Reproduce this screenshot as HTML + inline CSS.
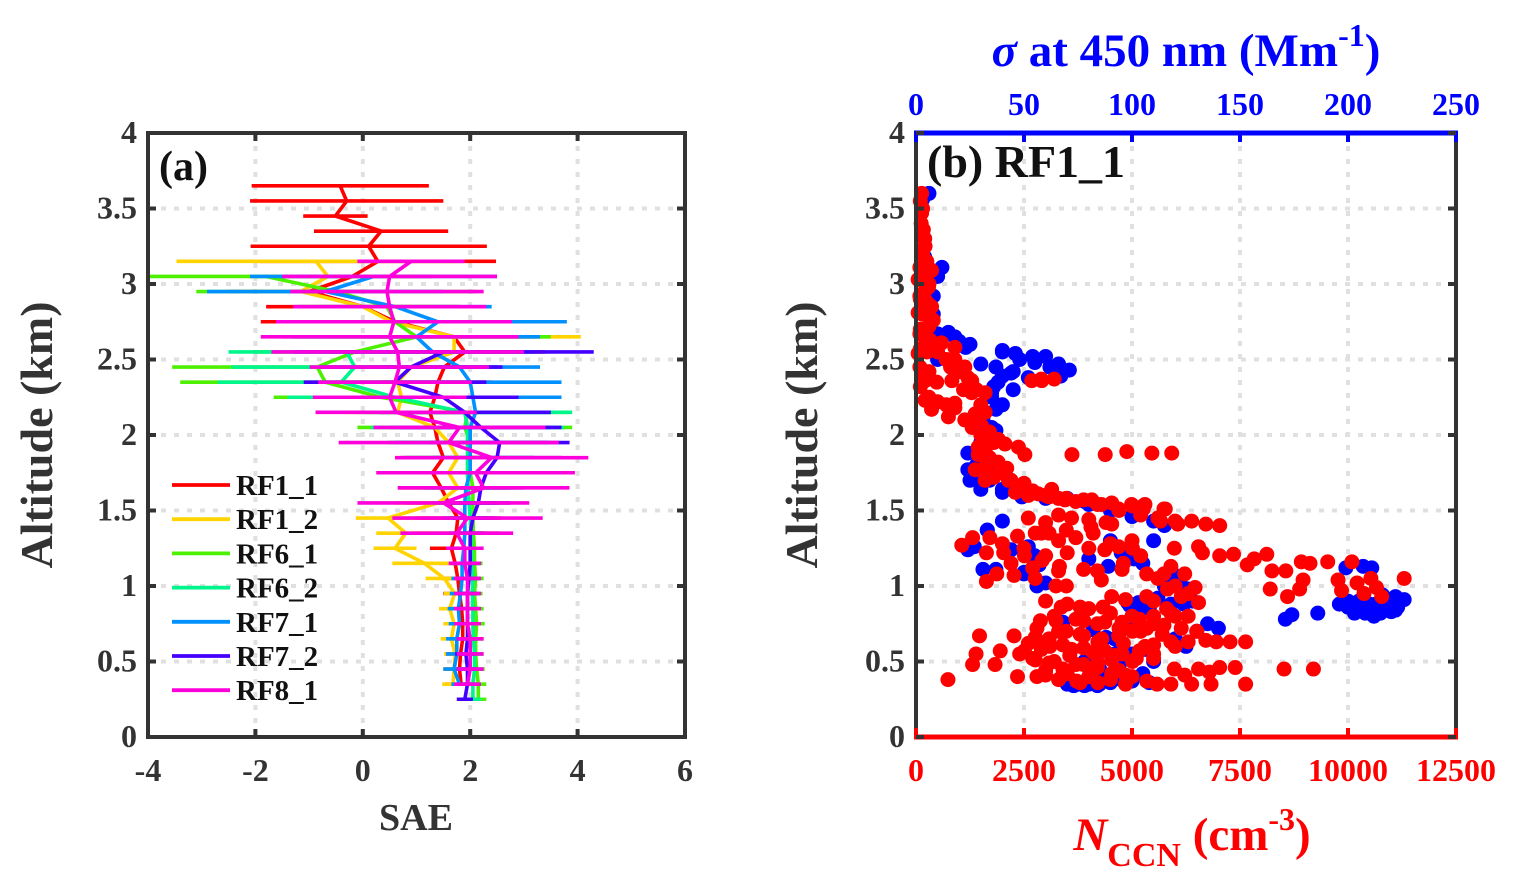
<!DOCTYPE html>
<html><head><meta charset="utf-8">
<style>
html,body{margin:0;padding:0;background:#fff;}
svg{display:block;font-family:"Liberation Serif",serif;font-weight:bold;}
</style></head>
<body>
<svg id="fig" width="1520" height="895" viewBox="0 0 1520 895" xmlns="http://www.w3.org/2000/svg">
<g id="pa"></g>
<g id="pb"></g>
</svg>
<script>
// ---------- Panel (a) data ----------
const altLevels = [0.25,0.35,0.45,0.55,0.65,0.75,0.85,0.95,1.05,1.15,1.25,1.35,1.45,1.55,1.65,1.75,1.85,1.95,2.05,2.15,2.25,2.35,2.45,2.55,2.65,2.75,2.85,2.95,3.05,3.15,3.25,3.35,3.45,3.55,3.65];
const seriesNames = ["RF1_1","RF1_2","RF6_1","RF6_2","RF7_1","RF7_2","RF8_1"];
const seriesColors = ["#ff0000","#ffd400","#4cf000","#00f58a","#0090ff","#4400ff","#ff00dc"];
const n = null;
const rf11Mean = [n,1.83,1.80,1.82,1.86,1.86,1.84,1.80,1.77,1.72,1.65,1.74,1.77,1.60,1.46,1.30,1.50,1.40,1.34,1.25,1.34,1.40,1.52,1.90,1.70,0.60,0.00,-1.00,-0.20,0.28,0.11,0.34,-0.51,-0.30,-0.42];
const rf11Err  = [n,0.3,0.3,0.3,0.25,0.25,0.25,0.3,0.3,0.3,0.4,0.8,0.8,0.8,0.8,0.8,0.8,0.8,0.8,0.9,0.9,1.0,1.0,1.5,1.6,2.5,1.8,1.5,1.5,2.2,2.2,1.25,0.6,1.8,1.65];
const rf12Mean = [n,1.68,1.70,1.72,1.65,1.70,1.62,1.71,1.52,1.15,0.60,0.80,0.47,1.40,1.77,1.60,1.77,1.60,1.34,0.65,0.72,0.65,0.90,1.70,1.70,0.53,0.00,-1.15,-0.65,-0.87,n,n,n,n,n];
const rf12Err  = [n,0.2,0.2,0.2,0.2,0.2,0.2,0.2,0.35,0.6,0.4,0.55,0.6,0.8,0.8,0.8,0.8,0.8,0.9,1.0,1.0,1.0,1.0,1.2,2.36,1.5,1.2,1.2,1.5,2.6,n,n,n,n,n];
const rf61Mean = [2.15,2.15,2.12,2.10,2.10,2.12,2.10,2.08,2.10,2.08,2.08,2.06,2.05,2.05,2.05,2.00,2.00,2.00,1.90,1.95,0.34,-0.70,-0.85,-0.15,1.00,0.60,0.45,-0.50,-1.80,n,n,n,n,n,n];
const rf61Err  = [0.15,0.15,0.15,0.15,0.15,0.15,0.15,0.15,0.15,0.15,0.15,0.2,0.3,0.5,0.8,1.0,1.2,1.5,2.0,1.9,2.0,2.7,2.7,1.9,2.5,1.0,1.3,2.6,2.2,n,n,n,n,n,n];
const rf62Mean = [2.05,2.05,2.08,2.08,2.06,2.05,2.05,2.04,2.05,2.03,2.02,2.02,2.00,1.98,1.96,1.95,1.95,1.95,1.95,1.90,0.60,-0.40,-0.15,-0.30,n,n,n,n,n,n,n,n,n,n,n];
const rf62Err  = [0.15,0.15,0.15,0.15,0.15,0.15,0.15,0.15,0.15,0.15,0.15,0.2,0.3,0.5,0.8,1.0,1.2,1.5,1.8,2.0,2.0,2.3,2.3,2.2,n,n,n,n,n,n,n,n,n,n,n];
const rf71Mean = [n,1.80,1.70,1.75,1.75,1.80,1.78,1.82,1.85,1.85,1.88,1.90,1.90,1.90,1.92,2.00,2.00,2.00,2.00,2.10,2.05,2.00,1.80,1.30,1.00,1.40,0.60,-0.70,0.20,n,n,n,n,n,n];
const rf71Err  = [n,0.15,0.2,0.2,0.2,0.2,0.2,0.2,0.2,0.2,0.2,0.3,0.4,0.6,0.8,1.0,1.2,1.4,1.5,1.4,1.65,1.7,1.5,1.9,2.3,2.4,1.8,2.2,2.3,n,n,n,n,n,n];
const rf72Mean = [1.90,1.95,1.95,1.92,1.95,1.95,1.95,1.95,1.98,2.00,2.00,2.00,2.05,2.15,2.20,2.30,2.50,2.55,2.20,1.90,1.50,0.60,0.90,1.50,n,n,n,n,n,n,n,n,n,n,n];
const rf72Err  = [0.15,0.15,0.2,0.2,0.2,0.2,0.2,0.2,0.2,0.2,0.2,0.3,0.4,0.6,0.8,1.0,1.2,1.3,1.5,1.6,1.4,1.7,1.7,2.8,n,n,n,n,n,n,n,n,n,n,n];
const rf81Mean = [n,1.95,2.00,2.00,2.00,1.95,1.95,1.95,1.95,1.90,1.90,1.75,1.95,1.50,2.25,2.10,2.40,1.60,1.80,0.62,0.50,0.60,0.68,0.65,0.50,0.58,0.50,0.45,0.50,0.90,n,n,n,n,n];
const rf81Err  = [n,0.25,0.25,0.25,0.25,0.25,0.25,0.25,0.25,0.3,0.35,1.05,1.4,1.6,1.6,1.85,1.8,2.05,1.6,1.5,1.43,1.43,1.67,2.35,2.4,2.2,1.8,1.8,2.0,1.0,n,n,n,n,n];
const allMeans = [rf11Mean,rf12Mean,rf61Mean,rf62Mean,rf71Mean,rf72Mean,rf81Mean];
const allErrs  = [rf11Err,rf12Err,rf61Err,rf62Err,rf71Err,rf72Err,rf81Err];
const saeTicks = [-4,-2,0,2,4,6];
const altTicks = [0,0.5,1,1.5,2,2.5,3,3.5,4];
const altTickLabels = ["0","0.5","1","1.5","2","2.5","3","3.5","4"];

// ---------- Panel (b) data ----------
// red: N_CCN (cm^-3)
const ccnN = [130,130,170,210,90,360,50,290,90,360,50,400,90,320,590,900,50,900,90,1130,210,1290,480,830,1290,1600,210,360,900,750,1130,1370,1520,1680,1910,1440,2060,2370,2520,1440,1600,1910,2140,2450,2830,3140,3450,4070,4530,4990,5300,5770,2680,2910,3610,4380,4880,5460,5920,1600,1370,
 6380,6710,7030,6060,5660,5260,5740,5260,5010,4690,4290,3880,3480,3080,
 1060,1310,1710,2350,2760,3080,3480,4050,4530,
 1630,2030,2510,2920,3320,3880,4370,4690,5010,5980,6540,6630,7030,7350,7670,7830,8120,8240,8560,8920,9120,9530,10090,8960,11300,9770,10210,10530,10660,10780,10370,9850,8600,8200,8880,
 1630,1870,2270,2760,3240,3480,4290,4770,5340,5740,5900,6220,6460,
 3360,3800,4330,4530,4850,5340,5820,6140,6540,6300,5900,5500,5170,4770,4370,3880,3240,2880,1470,2270,2760,3080,3480,3880,4210,4690,5010,5340,5740,6140,6710,7630,7270,6950,6300,5900,5500,5170,4770,4370,3880,3400,2920,2510,1390,1950,1310,1830,2350,2800,3000,3400,3880,4210,4530,5010,5500,5980,6220,6540,6790,7030,7390,8520,9200,740,3720,4210,4850,5340,5580,5900,6380,6830,7630,3400,3080,2760,3560,4530,4850,4050,
 2900,3200,
 100,150,120,200,150,250,120,300,200,100,250,150,300,100,200,350,100,250,500,700,150,300,800,1000,1200,100,300,500,700,900,1100,1400,1500,1600,1300,1500,1700,1800,1600,1700,1900,2100,1800,2200,2500,2700,3000,3300,3700,4200,4700,5200,5600,6000,2300,2600,
 2600,3000,3300,3600,4000,4400,2900,3300,3700,4100,2000,2500,3000,3500,4000,4500,5000,2200,2700,3300,4200,4800,5200,5600,6000,6300,5500,5800,
 3000,3500,4000,4500,5000,3200,3700,4200,4700,5200,5700,2800,3300,3800,4300,4800,5300,2600,3100,3600,4100,4600,5100,2700,3200,3700,4200,4700,3000,3500,4000,4500,5000,3300,3800,5500,6000,6500,6000,5500,2400,2900];
// red: altitude (km)
const ccnAlt = [3.60,3.47,3.36,3.25,3.11,3.09,3.03,2.98,2.92,2.85,2.81,2.76,2.67,2.63,2.61,2.58,2.54,2.50,2.45,2.45,2.36,2.36,2.35,2.36,2.28,2.28,2.23,2.17,2.21,2.12,2.10,2.14,2.06,1.99,1.97,1.92,1.94,1.92,1.87,1.87,1.79,1.75,1.70,1.66,1.61,1.64,1.57,1.57,1.55,1.54,1.54,1.51,2.36,2.36,1.87,1.87,1.89,1.88,1.88,1.70,1.77,
 1.43,1.41,1.40,1.41,1.43,1.53,1.51,1.51,1.53,1.51,1.54,1.57,1.58,1.59,
 1.27,1.32,1.32,1.33,1.35,1.35,1.37,1.39,1.41,
 1.22,1.22,1.20,1.17,1.13,1.11,1.24,1.26,1.25,1.25,1.26,1.22,1.20,1.21,1.14,1.18,1.21,1.10,1.10,1.16,1.15,1.16,1.16,1.04,1.05,1.04,1.02,1.05,0.99,0.93,0.95,0.97,0.93,0.98,0.98,
 1.03,1.08,1.07,1.05,1.0,1.0,1.04,1.11,1.08,1.08,1.13,1.08,0.99,
 0.86,0.86,0.86,0.93,0.91,0.93,0.98,0.93,0.89,0.80,0.82,0.80,0.78,0.76,0.76,0.77,0.77,0.77,0.67,0.67,0.66,0.65,0.70,0.67,0.63,0.67,0.70,0.72,0.74,0.72,0.64,0.63,0.63,0.63,0.63,0.63,0.61,0.57,0.55,0.57,0.59,0.61,0.59,0.57,0.55,0.57,0.48,0.48,0.40,0.40,0.41,0.45,0.48,0.49,0.51,0.50,0.52,0.45,0.41,0.45,0.43,0.46,0.46,0.45,0.45,0.38,0.37,0.36,0.35,0.37,0.35,0.35,0.35,0.35,0.35,0.41,0.49,0.51,0.54,0.42,0.41,0.41,
 2.37,2.37,
 3.55,3.5,3.4,3.3,3.2,3.15,3.05,3.0,2.95,2.9,2.88,2.8,2.72,2.7,2.65,2.6,2.57,2.55,2.55,2.5,2.4,2.42,2.45,2.42,2.38,2.32,2.25,2.22,2.2,2.18,2.3,2.3,2.2,2.15,2.05,2.0,2.02,1.95,1.9,1.85,1.82,1.78,1.72,1.7,1.68,1.63,1.6,1.58,1.56,1.54,1.5,1.47,1.45,1.43,1.62,1.6,
 1.45,1.42,1.47,1.45,1.44,1.42,1.35,1.3,1.32,1.35,1.28,1.25,1.2,1.22,1.25,1.28,1.3,1.15,1.12,1.1,1.1,1.15,1.2,1.05,1.0,0.95,0.9,0.85,
 0.9,0.88,0.85,0.82,0.8,0.8,0.78,0.75,0.72,0.7,0.68,0.72,0.7,0.68,0.65,0.62,0.6,0.62,0.6,0.58,0.56,0.54,0.52,0.52,0.5,0.48,0.46,0.44,0.44,0.42,0.4,0.38,0.4,0.38,0.36,0.55,0.6,0.7,0.8,0.75,0.55,0.58];
// blue: sigma at 450 nm (Mm^-1)
const sigVal = [6,3,3,4,12,10,8,10,18,23,10,40,46,54,60,66,71,67,30,37,40,44,36,35,37,31,37,35,24,24,25,30,34,40,49,70,78,
 40,33,33,27,24,31,37,44,52,55,50,57,60,50,56,95,101,80,89,119,123,126,112,124,207,199,211,216,222,226,212,186,174,171,103,108,99,104,119,98,57,98,68,82,88,92,106,78,82,88,100,108,210,216,220,214,205,200,204,203,215,212,218,222,208,196,70,73,80,84,78,90,92,94,200,207,213,219,223,
 40,48,55,62,45,52,38,45,35,40,32,35,30,32,28,35,30,40,50,60,80,90,100,110,115,20,25,15,8,5,4,3,
 90,100,110,105,115,125,135,130,140,120,125,100,85,80,75,85,95,105,110,95,108,118,128,210,205,215,218];
// blue: altitude (km)
const sigAlt = [3.60,3.56,3.36,3.18,3.11,3.05,2.92,2.67,2.65,2.58,2.50,2.56,2.54,2.52,2.52,2.47,2.43,2.39,2.47,2.45,2.39,2.41,2.32,2.25,2.17,2.10,2.03,1.97,1.88,1.77,1.70,1.64,1.70,1.64,1.59,1.58,1.56,
 1.43,1.37,1.37,1.26,1.24,1.11,1.11,1.24,1.26,1.20,1.09,1.14,1.02,1.08,1.00,1.22,1.18,1.18,1.13,1.08,1.00,0.98,0.92,0.88,1.13,1.12,1.12,0.94,0.93,0.91,0.82,0.82,0.81,0.78,0.89,0.87,0.87,0.87,0.81,0.74,1.02,0.89,0.76,0.71,0.66,0.65,0.58,0.50,0.45,0.40,0.37,0.36,0.86,0.85,0.83,0.87,0.90,0.86,0.84,0.82,0.83,0.80,0.86,0.84,0.82,0.88,0.35,0.34,0.35,0.34,0.34,0.36,0.55,0.47,0.90,0.91,0.88,0.84,0.86,
 2.55,2.5,2.48,2.45,2.42,2.38,2.35,2.3,2.28,2.2,2.15,2.05,1.95,1.85,1.8,1.75,1.68,1.62,1.6,1.58,1.54,1.5,1.46,1.43,1.4,2.62,2.6,2.68,2.8,3.0,3.3,3.5,
 1.3,1.25,1.3,1.15,1.0,0.95,0.75,0.7,0.72,0.65,0.6,0.55,0.45,0.4,0.35,0.35,0.38,0.42,0.5,0.6,0.85,0.88,0.9,0.88,0.85,0.82,0.9];
const ccnTicks = [0,2500,5000,7500,10000,12500];
const ccnTickLabels = ["0","2500","5000","7500","10000","12500"];
const sigTicks = [0,50,100,150,200,250];

const SVGNS = "http://www.w3.org/2000/svg";
function el(tag, attrs, parent){const e=document.createElementNS(SVGNS,tag);for(const k in attrs)e.setAttribute(k,attrs[k]);parent.appendChild(e);return e;}
const GRID = {stroke:'#e0e0e0','stroke-width':4,'stroke-dasharray':'5,8'};
function gl(a,p){return el('line',Object.assign({},GRID,a),p);}

// ---------- Panel (a) ----------
const A = {x0:148,x1:685,y0:737,y1:133};
const ax = v => A.x0 + (v - (-4)) / 10 * (A.x1 - A.x0);
const ay = v => A.y0 - v / 4 * (A.y0 - A.y1);
const pa = document.getElementById('pa');
const gridA = el('g',{},pa);


saeTicks.slice(1,-1).forEach(t=>{const l=gl({x1:ax(t),x2:ax(t),y1:A.y1,y2:A.y0},gridA);

});
altTicks.slice(1,-1).forEach(t=>{const l=gl({x1:A.x0,x2:A.x1,y1:ay(t),y2:ay(t)},gridA);

});
allMeans.forEach((means,si)=>{
  const g = el('g',{},pa);
  
  
  const errs = allErrs[si]; const c = seriesColors[si];
  let d='';
  means.forEach((m,i)=>{ if(m===null) return;
    const bar = el('line',{x1:ax(m-errs[i]),x2:ax(m+errs[i]),y1:ay(altLevels[i]),y2:ay(altLevels[i]),stroke:c,'stroke-width':3.6},g);
    
    
    d += (d?'L':'M')+ax(m).toFixed(1)+','+ay(altLevels[i]).toFixed(1);
  });
  const p = el('path',{d:d,fill:'none',stroke:c,'stroke-width':3.6,'stroke-linejoin':'round'},g);
  
  
});
const frA = el('rect',{x:A.x0,y:A.y1,width:A.x1-A.x0,height:A.y0-A.y1,fill:'none',stroke:'#333','stroke-width':4},pa);


saeTicks.forEach(t=>{
  el('line',{x1:ax(t),x2:ax(t),y1:A.y0,y2:A.y0-8,stroke:'#333','stroke-width':4},pa);
  el('line',{x1:ax(t),x2:ax(t),y1:A.y1,y2:A.y1+8,stroke:'#333','stroke-width':4},pa);
  const tx = el('text',{x:ax(t),y:781,'text-anchor':'middle','font-size':32,fill:'#333'},pa);
  tx.textContent = String(t);
  
  
});
altTicks.forEach((t,i)=>{
  el('line',{x1:A.x0,x2:A.x0+8,y1:ay(t),y2:ay(t),stroke:'#333','stroke-width':4},pa);
  el('line',{x1:A.x1,x2:A.x1-8,y1:ay(t),y2:ay(t),stroke:'#333','stroke-width':4},pa);
  const tx = el('text',{x:137,y:ay(t)+10,'text-anchor':'end','font-size':32,fill:'#333'},pa);
  tx.textContent = altTickLabels[i];
  
  
});
const xtA = el('text',{x:416,y:830,'text-anchor':'middle','font-size':38,fill:'#333'},pa);
xtA.textContent='SAE';


const ytA = el('text',{x:52,y:435,'text-anchor':'middle','font-size':46,fill:'#333',transform:'rotate(-90 52 435)'},pa);
ytA.textContent='Altitude (km)';


const laA = el('text',{x:159,y:180,'font-size':42,fill:'#111'},pa);
laA.textContent='(a)';


const leg = el('g',{},pa);


seriesNames.forEach((nm,i)=>{
  const y = 485 + i*34.2;
  const it = el('g',{},leg);
  
  
  el('line',{x1:172,x2:230,y1:y,y2:y,stroke:seriesColors[i],'stroke-width':3.8},it);
  const t = el('text',{x:236,y:y+10,'font-size':29,fill:'#111'},it);
  t.textContent = nm;
});

// ---------- Panel (b) ----------
const B = {x0:916,x1:1456,y0:737,y1:133};
const bxN = v => B.x0 + v/12500*(B.x1-B.x0);
const bxS = v => B.x0 + v/250*(B.x1-B.x0);
const by = v => B.y0 - v/4*(B.y0-B.y1);
const pb = document.getElementById('pb');
const gridB = el('g',{},pb);


ccnTicks.slice(1,-1).forEach(t=>{gl({x1:bxN(t),x2:bxN(t),y1:B.y1,y2:B.y0},gridB);});
altTicks.slice(1,-1).forEach(t=>{gl({x1:B.x0,x2:B.x1,y1:by(t),y2:by(t)},gridB);});
const blueG = el('g',{fill:'#0000ff'},pb);


sigVal.forEach((v,i)=>{const c=el('circle',{cx:bxS(v),cy:by(sigAlt[i]),r:7.5},blueG);

});
const redG = el('g',{fill:'#ff0000'},pb);


ccnN.forEach((v,i)=>{const c=el('circle',{cx:bxN(v),cy:by(ccnAlt[i]),r:7.5},redG);

});
el('line',{x1:B.x0,x2:B.x0,y1:B.y1,y2:B.y0,stroke:'#333','stroke-width':4},pb);
el('line',{x1:B.x1,x2:B.x1,y1:B.y1,y2:B.y0,stroke:'#333','stroke-width':4},pb);
const topAx = el('line',{x1:B.x0-2,x2:B.x1+2,y1:B.y1,y2:B.y1,stroke:'#0000ff','stroke-width':5},pb);


const botAx = el('line',{x1:B.x0-2,x2:B.x1+2,y1:B.y0,y2:B.y0,stroke:'#ff0000','stroke-width':5},pb);


ccnTicks.forEach((t,i)=>{
  el('line',{x1:bxN(t),x2:bxN(t),y1:B.y0,y2:B.y0-9,stroke:'#ff0000','stroke-width':4},pb);
  const tx = el('text',{x:bxN(t),y:781,'text-anchor':'middle','font-size':32,fill:'#ff0000'},pb);
  tx.textContent = ccnTickLabels[i];
  
  
});
sigTicks.forEach(t=>{
  el('line',{x1:bxS(t),x2:bxS(t),y1:B.y1,y2:B.y1+9,stroke:'#0000ff','stroke-width':4},pb);
  const tx = el('text',{x:bxS(t),y:115,'text-anchor':'middle','font-size':32,fill:'#0000ff'},pb);
  tx.textContent = String(t);
  
  
});
altTicks.forEach((t,i)=>{
  el('line',{x1:B.x0,x2:B.x0+8,y1:by(t),y2:by(t),stroke:'#333','stroke-width':4},pb);
  el('line',{x1:B.x1,x2:B.x1-8,y1:by(t),y2:by(t),stroke:'#333','stroke-width':4},pb);
  const tx = el('text',{x:905,y:by(t)+10,'text-anchor':'end','font-size':32,fill:'#333'},pb);
  tx.textContent = altTickLabels[i];
  
  
});
const ytB = el('text',{x:817,y:435,'text-anchor':'middle','font-size':46,fill:'#333',transform:'rotate(-90 817 435)'},pb);
ytB.textContent='Altitude (km)';


const laB = el('text',{x:927,y:177,'font-size':46,fill:'#111'},pb);
laB.textContent='(b) RF1_1';


</script>
<svg style="position:absolute;left:0;top:0" width="1520" height="895">
  <text x="1186" y="66" text-anchor="middle" font-family="Liberation Serif, serif" font-weight="bold" font-size="47" fill="#0000ff"><tspan font-style="italic">σ</tspan> at 450 nm (Mm<tspan dy="-20" font-size="32">-1</tspan><tspan dy="20">)</tspan></text>
  <text x="1192" y="850" text-anchor="middle" font-family="Liberation Serif, serif" font-weight="bold" font-size="47" fill="#ff0000"><tspan font-style="italic">N</tspan><tspan dy="16" font-size="34">CCN</tspan><tspan dy="-16"> (cm</tspan><tspan dy="-20" font-size="32">-3</tspan><tspan dy="20">)</tspan></text>
</svg>
</body></html>
